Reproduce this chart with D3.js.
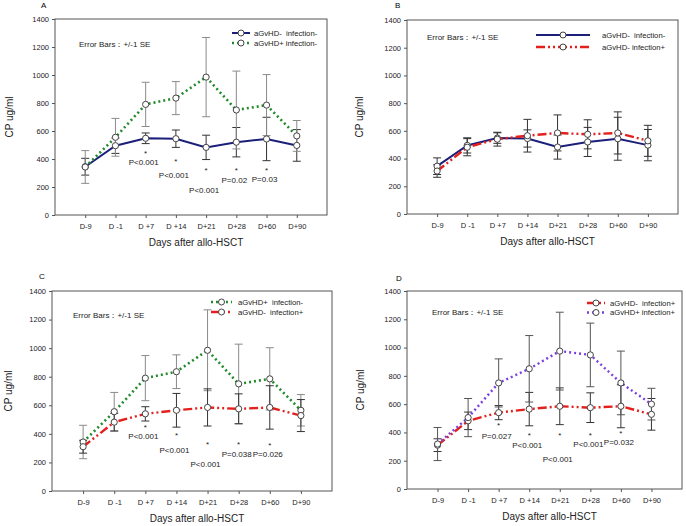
<!DOCTYPE html>
<html>
<head>
<meta charset="utf-8">
<script src="https://cdn.jsdelivr.net/npm/d3@7"></script>
<style>
body { margin: 0; background: #fff; }
svg { font-family: "Liberation Sans", Arial, sans-serif; }
text { white-space: pre; }
.frame { fill: none; stroke: #555; stroke-width: 1; }
.tick-lbl { font-size: 7.5px; fill: #222; }
.ax-title { font-size: 10px; fill: #222; }
.leg { font-size: 7.7px; fill: #222; }
.note { font-size: 8px; fill: #222; }
</style>
</head>
<body>
<svg id="chart" width="686" height="526"></svg>
<script>
// x categories
const days = ['D-9', 'D -1', 'D +7', 'D +14', 'D+21', 'D+28', 'D+60', 'D+90'];
const yTicks = [0, 200, 400, 600, 800, 1000, 1200, 1400];

// group means and standard errors (CP ug/ml)
const negNegMean = [345, 495, 548, 545, 483, 520, 543, 497];
const negNegSE   = [60, 55, 38, 62, 87, 105, 155, 113];
const posNegMean = [343, 555, 790, 835, 985, 750, 785, 565];
const posNegSE   = [117, 135, 158, 118, 283, 278, 218, 110];
const negPosMean = [310, 482, 540, 565, 585, 575, 585, 528];
const negPosSE   = [45, 62, 50, 118, 130, 105, 152, 112];
const posPosMean = [318, 505, 750, 850, 975, 948, 750, 600];
const posPosSE   = [117, 135, 170, 235, 275, 225, 225, 112];

// significance notes (days D +7 .. D+60)
const pA = ['P<0.001', 'P<0.001', 'P<0.001', 'P=0.02', 'P=0.03'];
const starA = [452, 393, 333, 333, 333];
const textA = [374, 286, 174, 250, 257];
const pC = ['P<0.001', 'P<0.001', 'P<0.001', 'P=0.038', 'P=0.026'];
const starC = [455, 400, 341, 341, 332];
const textC = [381, 287, 187, 257, 257];
const pD = ['P=0.027', 'P<0.001', 'P<0.001', 'P<0.001', 'P=0.032'];
const starD = [459, 395, 395, 395, 407];
const textD = [371, 312, 213, 319, 329];

const styles = {
    negNeg: { color: '#1c1f7a', dash: null, width: 2, bar: '#333' },
    posNeg: { color: '#218a2a', dash: '2,3', width: 2.6, bar: '#8a8a8a' },
    negPos: { color: '#e3201c', dash: '9,3,2,3,2,3', width: 2.4, bar: '#333' },
    posPos: { color: '#7b3fe0', dash: '2,3', width: 2.4, bar: '#555' }
};

const svg = d3.select('#chart');

const panels = [
    { tag: 'A', box: [55, 327, 19, 215],
      series: [
        { key: 'negNeg', name: 'aGvHD-  infection-', mean: negNegMean, se: negNegSE },
        { key: 'posNeg', name: 'aGvHD+ infection-', mean: posNegMean, se: posNegSE }],
      legend: { x1: 232, x2: 250, y: 33, gap: 10, tx: 254 },
      eb: [79, 47], notes: [pA, starA, textA], tagPos: [41, 8], ylab: 10 },
    { tag: 'B', box: [407, 678, 20, 214],
      series: [
        { key: 'negNeg', name: 'aGvHD-  infection-', mean: negNegMean, se: negNegSE },
        { key: 'negPos', name: 'aGvHD- infection+', mean: negPosMean, se: negPosSE }],
      legend: { x1: 536, x2: 590, y: 35, gap: 12, tx: 602 },
      eb: [427, 40], notes: null, tagPos: [395, 8], ylab: 360 },
    { tag: 'C', box: [52, 332, 291, 491],
      series: [
        { key: 'posNeg', name: 'aGvHD+  infection-', mean: posNegMean, se: posNegSE },
        { key: 'negPos', name: 'aGvHD-  infection+', mean: negPosMean, se: negPosSE }],
      legend: { x1: 211, x2: 232, y: 302, gap: 10, tx: 238 },
      eb: [73, 318], notes: [pC, starC, textC], tagPos: [39, 279], ylab: 9 },
    { tag: 'D', box: [407, 682, 291, 489],
      series: [
        { key: 'negPos', name: 'aGvHD-  infection+', mean: negPosMean, se: negPosSE },
        { key: 'posPos', name: 'aGvHD+ infection+', mean: posPosMean, se: posPosSE }],
      legend: { x1: 587, x2: 605, y: 303, gap: 9.5, tx: 610 },
      eb: [432, 315], notes: [pD, starD, textD], tagPos: [396, 281], ylab: 361 }
];

panels.forEach(drawPanel);

function drawPanel(p)
{
    const [left, right, top, bottom] = p.box;
    const x = d3.scalePoint().domain(days).range([left, right]).padding(1);
    const y = d3.scaleLinear().domain([0, 1400]).range([bottom, top]);
    const g = svg.append('g');

    g.append('text').attr('x', p.tagPos[0]).attr('y', p.tagPos[1])
        .style('font-size', '8px').text(p.tag);

    // axes
    const yAx = g.append('g').attr('transform', `translate(${left},0)`)
        .call(d3.axisLeft(y).tickValues(yTicks).tickFormat(d3.format('d')).tickSize(3).tickPadding(3));
    const xAx = g.append('g').attr('transform', `translate(0,${bottom})`)
        .call(d3.axisBottom(x).tickSize(3).tickPadding(6));
    [yAx, xAx].forEach(a => {
        a.select('.domain').remove();
        a.selectAll('line').attr('stroke', '#555');
        a.selectAll('text').attr('class', 'tick-lbl').attr('font-family', null).attr('font-size', null);
    });
    g.append('rect').attr('class', 'frame')
        .attr('x', left).attr('y', top).attr('width', right - left).attr('height', bottom - top);

    g.append('text').attr('class', 'ax-title')
        .attr('x', (left + right) / 2 + 5).attr('y', bottom + 31)
        .attr('text-anchor', 'middle').text('Days after allo-HSCT');
    g.append('text').attr('class', 'ax-title')
        .attr('transform', `translate(${p.ylab + 3},${(top + bottom) / 2}) rotate(-90)`)
        .attr('text-anchor', 'middle').text('CP ug/ml');

    g.append('text').attr('class', 'note').attr('x', p.eb[0]).attr('y', p.eb[1])
        .text('Error Bars：+/-1 SE');

    // error bars
    p.series.forEach(s => {
        const st = styles[s.key];
        const eg = g.append('g').attr('stroke', st.bar).attr('stroke-width', 1);
        days.forEach((d, i) => {
            const cx = x(d), hi = y(s.mean[i] + s.se[i]), lo = y(s.mean[i] - s.se[i]);
            eg.append('line').attr('x1', cx).attr('x2', cx).attr('y1', hi).attr('y2', lo);
            eg.append('line').attr('x1', cx - 4).attr('x2', cx + 4).attr('y1', hi).attr('y2', hi);
            eg.append('line').attr('x1', cx - 4).attr('x2', cx + 4).attr('y1', lo).attr('y2', lo);
        });
    });

    // lines and markers
    const line = d3.line().x((d, i) => x(days[i])).y(d => y(d));
    p.series.forEach(s => {
        const st = styles[s.key];
        g.append('path').datum(s.mean)
            .attr('d', line)
            .attr('fill', 'none')
            .attr('stroke', st.color)
            .attr('stroke-width', st.width)
            .attr('stroke-dasharray', st.dash);
    });
    p.series.forEach(s => {
        g.append('g').selectAll('circle')
            .data(s.mean)
            .join('circle')
                .attr('cx', (d, i) => x(days[i]))
                .attr('cy', d => y(d))
                .attr('r', 3.1)
                .attr('fill', '#fff')
                .attr('stroke', '#444')
                .attr('stroke-width', 1);
    });

    // legend
    const L = p.legend;
    p.series.forEach((s, i) => {
        const st = styles[s.key];
        const ly = L.y + i * L.gap;
        g.append('line')
            .attr('x1', L.x1).attr('x2', L.x2).attr('y1', ly).attr('y2', ly)
            .attr('stroke', st.color).attr('stroke-width', st.width)
            .attr('stroke-dasharray', st.dash);
        g.append('circle')
            .attr('cx', (L.x1 + L.x2) / 2).attr('cy', ly).attr('r', 3)
            .attr('fill', '#fff').attr('stroke', '#444');
        g.append('text').attr('class', 'leg')
            .attr('x', L.tx).attr('y', ly).attr('dy', '0.35em').text(s.name);
    });

    // significance marks
    if (p.notes) {
        const [labels, stars, texts] = p.notes;
        labels.forEach((lab, i) => {
            const cx = x(days[i + 2]);
            g.append('text').attr('class', 'note')
                .attr('x', cx).attr('y', y(stars[i])).attr('dy', '0.55em')
                .attr('text-anchor', 'middle').text('*');
            g.append('text').attr('class', 'note')
                .attr('x', cx - 2).attr('y', y(texts[i])).attr('dy', '0.35em')
                .attr('text-anchor', 'middle').text(lab);
        });
    }
}
</script>
</body>
</html>
